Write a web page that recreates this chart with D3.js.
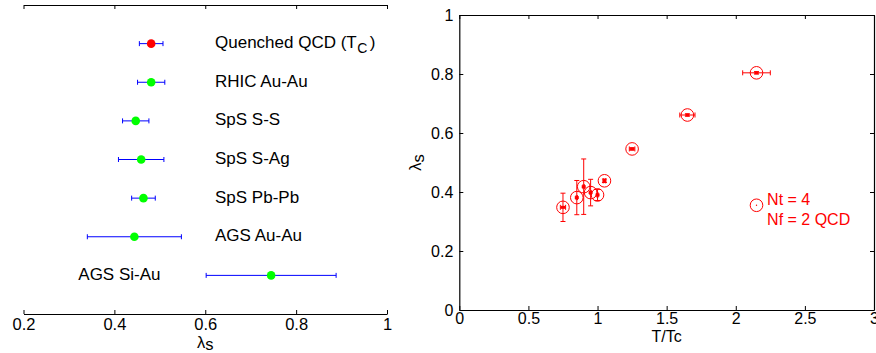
<!DOCTYPE html>
<html>
<head>
<meta charset="utf-8">
<script src="https://cdn.jsdelivr.net/npm/d3@7"></script>
<style>
  html, body { margin: 0; padding: 0; background: #fff; }
  svg { display: block; }
</style>
</head>
<body>
<svg id="chart" width="876" height="353"></svg>
<script>
// ---------- Data: left panel ----------
const leftCategories = ["Quenched QCD", "RHIC Au-Au", "SpS S-S", "SpS S-Ag", "SpS Pb-Pb", "AGS Au-Au", "AGS Si-Au"];
const leftValues = [0.481, 0.481, 0.447, 0.459, 0.464, 0.444, 0.745];
const leftErrors = [0.026, 0.030, 0.029, 0.050, 0.026, 0.1035, 0.143];
const leftColors = ["#ff0000", "#00ff00", "#00ff00", "#00ff00", "#00ff00", "#00ff00", "#00ff00"];
const leftTicks = [0.2, 0.4, 0.6, 0.8, 1.0];
const leftTickLabels = ["0.2", "0.4", "0.6", "0.8", "1"];

// ---------- Data: right panel ----------
const tOverTc = [0.75, 0.85, 0.90, 0.95, 1.00, 1.05, 1.25, 1.65, 2.15];
const lambdaS = [0.348, 0.381, 0.418, 0.398, 0.390, 0.438, 0.546, 0.661, 0.804];
const lambdaErr = [0.048, 0.058, 0.094, 0.045, 0.019, 0.006, 0.004, 0.004, 0.004];
const tErr = [0.019, 0.005, 0.005, 0.005, 0.005, 0.008, 0.02, 0.055, 0.10];
const rightXTicks = [0, 0.5, 1, 1.5, 2, 2.5, 3];
const rightXTickLabels = ["0", "0.5", "1", "1.5", "2", "2.5", "3"];
const rightYTicks = [0, 0.2, 0.4, 0.6, 0.8, 1];
const rightYTickLabels = ["0", "0.2", "0.4", "0.6", "0.8", "1"];
const legendLines = ["Nt = 4", "Nf = 2 QCD"];

const FONT = "'Liberation Sans', Arial, Helvetica, sans-serif";
const svg = d3.select("#chart");

function styleAxis(g, fs) {
  g.attr("font-family", FONT).attr("font-size", fs);
  g.selectAll("path.domain").attr("stroke", "#000").attr("stroke-width", 1.2);
  g.selectAll(".tick line").attr("stroke", "#000").attr("stroke-width", 1);
  g.selectAll(".tick text").attr("fill", "#000");
}

// ================= LEFT PANEL =================
const lx = d3.scaleLinear().domain([0.2, 1]).range([23.5, 387]);
const ly = d3.scaleLinear().domain([0, 8]).range([5, 314]);
const L = svg.append("g");

L.append("g").attr("transform", `translate(0,${ly(0)})`)
  .call(d3.axisTop(lx).tickValues(leftTicks).tickSize(-4).tickSizeOuter(0).tickFormat(""))
  .call(g => styleAxis(g, 16));
L.append("g").attr("transform", `translate(0,${ly(8)})`)
  .call(d3.axisBottom(lx).tickValues(leftTicks).tickSize(-4).tickSizeOuter(0).tickPadding(4)
    .tickFormat((d, i) => leftTickLabels[i]))
  .call(g => styleAxis(g, 16.5));

// x label λs
const lxl = L.append("text").attr("x", lx(0.6)).attr("y", 347.5)
  .attr("text-anchor", "middle").attr("font-family", FONT).attr("font-size", 16.5).attr("fill", "#000");
lxl.append("tspan").text("λ");
lxl.append("tspan").attr("dy", 2.5).text("s");

leftCategories.forEach((c, i) => {
  const yy = ly(i + 1);
  const v = leftValues[i], e = leftErrors[i];
  const g = L.append("g");
  g.append("line").attr("x1", lx(v - e)).attr("x2", lx(v + e)).attr("y1", yy).attr("y2", yy)
    .attr("stroke", "#0000ff").attr("stroke-width", 1);
  [v - e, v + e].forEach(b => g.append("line").attr("x1", lx(b)).attr("x2", lx(b))
    .attr("y1", yy - 2.5).attr("y2", yy + 2.5).attr("stroke", "#0000ff").attr("stroke-width", 1));
  g.append("circle").attr("cx", lx(v)).attr("cy", yy).attr("r", 4.3).attr("fill", leftColors[i]);

  const tx = (i === leftCategories.length - 1) ? 78.3 : 215;
  const t = g.append("text").attr("x", tx).attr("y", yy + 4.5)
    .attr("font-family", FONT).attr("font-size", 17).attr("fill", "#000");
  if (i === 0) {
    t.append("tspan").text(c + " (T");
    t.append("tspan").attr("dy", 5).attr("dx", 0.5).attr("font-size", 14).text("C");
    t.append("tspan").attr("dy", -5).attr("dx", 2.5).text(")");
  } else {
    t.text(c);
  }
});

// ================= RIGHT PANEL =================
const rx = d3.scaleLinear().domain([0, 3]).range([459.3, 874]);
const ry = d3.scaleLinear().domain([0, 1]).range([310, 15]);
const R = svg.append("g");

R.append("g").attr("transform", `translate(0,${ry(0)})`)
  .call(d3.axisBottom(rx).tickValues(rightXTicks).tickSize(-4).tickSizeOuter(0).tickPadding(2.5)
    .tickFormat((d, i) => rightXTickLabels[i]))
  .call(g => styleAxis(g, 16));
R.append("g").attr("transform", `translate(0,${ry(1)})`)
  .call(d3.axisTop(rx).tickValues(rightXTicks).tickSize(-4).tickSizeOuter(0).tickFormat(""))
  .call(g => styleAxis(g, 16));
R.append("g").attr("transform", `translate(${rx(0)},0)`)
  .call(d3.axisLeft(ry).tickValues(rightYTicks).tickSize(-4).tickSizeOuter(0).tickPadding(6)
    .tickFormat((d, i) => rightYTickLabels[i]))
  .call(g => styleAxis(g, 16));
R.append("g").attr("transform", `translate(${rx(3)},0)`)
  .call(d3.axisRight(ry).tickValues(rightYTicks).tickSize(-4).tickSizeOuter(0).tickFormat(""))
  .call(g => styleAxis(g, 16));

// axis labels
R.append("text").attr("x", rx(1.5)).attr("y", 342)
  .attr("text-anchor", "middle").attr("font-family", FONT).attr("font-size", 16).attr("fill", "#000")
  .text("T/Tc");
const ryl = R.append("text").attr("transform", `translate(421,${(ry(0) + ry(1)) / 2}) rotate(-90)`)
  .attr("text-anchor", "middle").attr("font-family", FONT).attr("font-size", 16.5).attr("fill", "#000");
ryl.append("tspan").text("λ");
ryl.append("tspan").attr("dy", 2.5).text("s");

const RED = "#ff0000";
tOverTc.forEach((t, i) => {
  const v = lambdaS[i], ey = lambdaErr[i], ex = tErr[i];
  const cx = rx(t), cy = ry(v);
  const g = R.append("g").attr("stroke", RED).attr("stroke-width", 1).attr("fill", "none");
  // vertical error bar
  g.append("line").attr("x1", cx).attr("x2", cx).attr("y1", ry(v - ey)).attr("y2", ry(v + ey));
  [v - ey, v + ey].forEach(b => g.append("line").attr("x1", cx - 2.5).attr("x2", cx + 2.5)
    .attr("y1", ry(b)).attr("y2", ry(b)));
  // horizontal error bar
  g.append("line").attr("x1", rx(t - ex)).attr("x2", rx(t + ex)).attr("y1", cy).attr("y2", cy);
  [t - ex, t + ex].forEach(b => g.append("line").attr("x1", rx(b)).attr("x2", rx(b))
    .attr("y1", cy - 2.5).attr("y2", cy + 2.5));
  // center mark
  g.append("rect").attr("x", cx - 2).attr("y", cy - 1.5).attr("width", 4).attr("height", 3)
    .attr("fill", RED).attr("stroke", "none");
  // circle
  g.append("circle").attr("cx", cx).attr("cy", cy).attr("r", 6.3);
});

// legend
const lgx = rx(2.15), lgy = ry(0.355);
R.append("circle").attr("cx", lgx).attr("cy", lgy).attr("r", 6.3)
  .attr("fill", "none").attr("stroke", RED).attr("stroke-width", 1);
R.append("circle").attr("cx", lgx).attr("cy", lgy).attr("r", 0.7).attr("fill", RED);
legendLines.forEach((s, i) => {
  R.append("text").attr("x", lgx + 10.6).attr("y", 205 + i * 20)
    .attr("font-family", FONT).attr("font-size", 16).attr("fill", RED).text(s);
});
</script>
</body>
</html>
